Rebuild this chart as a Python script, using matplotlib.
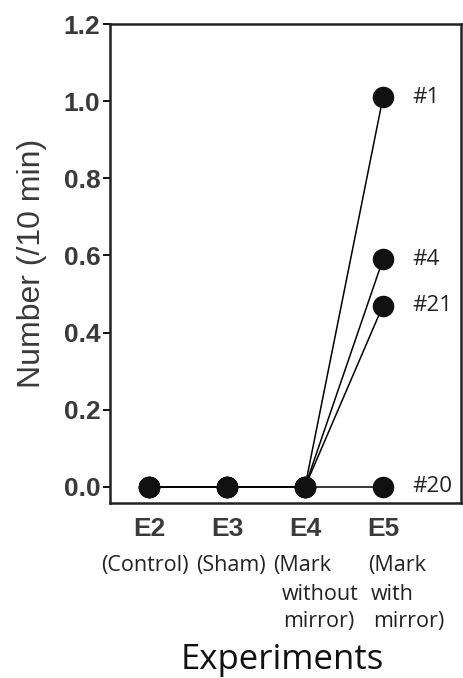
import numpy as np
import matplotlib
matplotlib.use("Agg")
import matplotlib.pyplot as plt

# ---------- DATA ----------
experiments = ["E2", "E3", "E4", "E5"]
conditions = [["(Control)"], ["(Sham)"], ["(Mark", "without", "mirror)"],
              ["(Mark", "with", "mirror)"]]
animal_ids = ["#1", "#4", "#21", "#20"]
counts_1 = [0.0, 0.0, 0.0, 1.01]
counts_4 = [0.0, 0.0, 0.0, 0.59]
counts_21 = [0.0, 0.0, 0.0, 0.47]
counts_20 = [0.0, 0.0, 0.0, 0.0]
y_ticks = [0.0, 0.2, 0.4, 0.6, 0.8, 1.0, 1.2]
# --------------------------

TICK_FONT = "Liberation Sans"
TEXT_FONT = "Open Sans"
GREY = "#3a3a3a"
W, H = 463, 678

fig = plt.figure(figsize=(W / 100, H / 100), dpi=100)
ax = fig.add_axes([110 / W, 1 - 503 / H, 351 / W, 479 / H])

x = np.arange(len(experiments))
series = [counts_1, counts_4, counts_21, counts_20]
for vals, name in zip(series, animal_ids):
    ax.plot(x, vals, color="black", lw=1.1, marker="o", ms=14.5,
            mfc="#111111", mec="#111111", zorder=3, clip_on=False)
    ax.annotate(name, xy=(x[-1], vals[-1]), xytext=(21, 0),
                textcoords="offset points", va="center", ha="left",
                fontsize=16, family=TEXT_FONT, color="#222222")

ax.set_xlim(-0.5, 4.0)
ax.set_ylim(-0.042, 1.2)
ax.set_yticks(y_ticks)
ax.set_yticklabels([f"{v:.1f}" for v in y_ticks], family=TICK_FONT,
                   fontsize=19, fontweight="bold", color=GREY)
ax.set_xticks(x)
ax.set_xticklabels(experiments, family=TICK_FONT, fontsize=19,
                   fontweight="bold", color=GREY)
ax.tick_params(axis="y", direction="out", length=5, width=1.3, pad=2)
ax.tick_params(axis="x", length=0, pad=10)

for side in ["left", "bottom", "top", "right"]:
    ax.spines[side].set_linewidth(1.8)
    ax.spines[side].set_color("#222222")

ax.set_ylabel("Number (/10 min)", family=TICK_FONT, fontsize=23,
              color=GREY, labelpad=12)

# condition notes under each experiment, one text per line
line_y = [565, 594, 622]
line_x = [[145], [231], [302, 320, 319], [397, 392, 409]]
for lines, xs in zip(conditions, line_x):
    for row, (txt, px) in enumerate(zip(lines, xs)):
        fig.text(px / W, 1 - line_y[row] / H, txt, ha="center", va="center",
                 family=TEXT_FONT, fontsize=15.5, color="#222222")

fig.text(282 / W, 1 - 660 / H, "Experiments", ha="center", va="center",
         family=TEXT_FONT, fontsize=25, color="#111111")

fig.savefig("out.png", dpi=100)
